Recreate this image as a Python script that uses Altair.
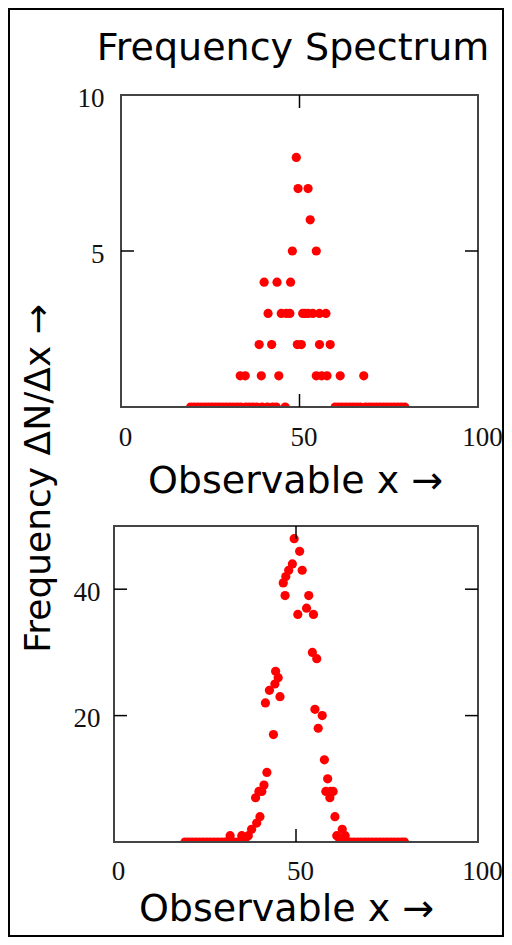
import altair as alt
import pandas as pd

# ---------------- text ----------------
TITLE = "Frequency Spectrum"
X_TITLE = "Observable x →"
Y_TITLE = "Frequency ΔN/Δx →"

# ---------------- tick values ----------------
x_ticks = [0, 50, 100]
top_y_ticks = [5, 10]
bot_y_ticks = [20, 40]

# ---------------- top panel data (counts per bin) ----------------
top_x = [49.1,
         49.6, 52.4,
         53.0,
         48.0, 54.7,
         40.1, 43.7, 47.5,
         41.2, 44.9, 46.3, 47.3, 50.9, 51.6, 52.4, 53.7, 55.6, 57.4,
         38.7, 42.2, 49.4, 50.5, 55.6, 58.6,
         33.4, 34.8, 39.3, 44.2, 54.7, 56.2, 57.7, 61.4, 68.0]
top_y = [8,
         7, 7,
         6,
         5, 5,
         4, 4, 4,
         3, 3, 3, 3, 3, 3, 3, 3, 3, 3,
         2, 2, 2, 2, 2, 2,
         1, 1, 1, 1, 1, 1, 1, 1, 1]
top_zero_x = [19.5, 20.5, 21.5, 22.5, 23.5, 24.5, 25.5, 26.5, 27.5, 28.5,
              29.5, 30.5, 31.5, 32.5, 33.5, 35.0, 36.0, 37.0, 38.0, 39.5,
              41.0, 42.5, 43.5, 46.0,
              60.0, 61.0, 62.0, 63.0, 64.0, 65.0, 66.0, 67.0, 68.5, 69.5,
              70.5, 71.5, 72.5, 73.5, 74.5, 75.5, 76.5, 77.5, 78.5, 79.5]

# ---------------- bottom panel data ----------------
bot_x = [49.5, 51.0, 49.0, 51.7, 48.0, 47.2, 46.5, 47.0, 53.5, 52.9,
         50.5, 54.8, 54.5, 55.7, 55.2, 57.2, 56.1, 57.8, 58.7, 58.2,
         59.5, 60.2, 59.3, 60.7, 62.7, 61.2, 63.5,
         44.4, 45.1, 44.2, 42.7, 45.6, 41.6, 43.8, 42.0, 41.2, 40.6,
         39.8, 38.9, 40.1, 39.2, 37.8, 36.9, 35.1, 31.9]
bot_y = [48, 46, 44, 43, 43, 42, 41, 39, 39, 37,
         36, 36, 30, 29, 21, 20, 18, 13, 10, 8,
         8, 8, 7, 4, 2, 1, 1,
         27, 26, 25, 24, 23, 22, 17, 11, 9, 8,
         8, 7, 4, 3, 2, 1, 1, 1]
bot_zero_x = [19.5, 20.5, 21.5, 22.5, 23.5, 24.5, 25.5, 26.5, 27.5, 28.5,
              29.5, 30.5, 31.0, 33.0, 34.0, 36.0,
              62.0, 64.2, 65.0, 66.0, 67.0, 68.0, 69.0, 70.0, 71.0, 72.0,
              73.0, 74.0, 75.0, 76.0, 77.0, 78.0, 79.0, 79.8]

# ---------------- styles ----------------
RED = "#ff0000"
FRAME = "#444444"
SERIF = "Liberation Serif"
SANS = "DejaVu Sans"
W, H = 496, 929


def x_axis(offset, pad, tx, ty):
    return alt.Axis(orient="bottom", offset=offset, values=x_ticks, ticks=False,
                    domain=False, grid=False, labelFlush=False, labelOverlap=False,
                    labelFont=SERIF, labelFontSize=27, labelColor="#111111",
                    labelPadding=pad, labelOffset=4,
                    title=X_TITLE, titleFont=SANS, titleFontSize=38,
                    titleFontWeight="normal", titleColor="black",
                    titleX=tx, titleY=ty, titleAlign="center",
                    titleBaseline="alphabetic")


def panel(xdom, ydom, xr, yr, px, py, zx, yticks, xaxis, yaxis):
    """Flat list of layers; every layer gets the same fixed domain/range."""
    def xs():
        return alt.Scale(domain=xdom, range=xr, nice=False, zero=False)

    def ys():
        return alt.Scale(domain=ydom, range=yr, nice=False, zero=False)

    pts = pd.DataFrame({"x": px + zx, "y": py + [0] * len(zx)})
    box = pd.DataFrame({"x0": [xdom[0]], "x1": [xdom[1]],
                        "y0": [ydom[0]], "y1": [ydom[1]]})
    side = pd.DataFrame({"y": [v for v in yticks if ydom[0] < v < ydom[1]]})
    mid = pd.DataFrame({"x": [v for v in x_ticks if xdom[0] < v < xdom[1]]})

    points = alt.Chart(pts).mark_point(
        filled=True, shape="circle", size=85, color=RED, opacity=1
    ).encode(
        x=alt.X("x:Q", scale=xs(), axis=xaxis),
        y=alt.Y("y:Q", scale=ys(), axis=yaxis),
    )
    mask = alt.Chart(box).mark_rect(color="white", y2Offset=7).encode(
        x=alt.X("x0:Q", scale=xs(), axis=None), x2="x1:Q",
        y=alt.Y("y0:Q", scale=ys(), axis=None), y2="y0:Q",
    )
    frame = alt.Chart(box).mark_rect(filled=False, color=FRAME, strokeWidth=2).encode(
        x=alt.X("x0:Q", scale=xs(), axis=None), x2="x1:Q",
        y=alt.Y("y0:Q", scale=ys(), axis=None), y2="y1:Q",
    )
    tick_style = dict(color="black", strokeWidth=1.5)
    left = alt.Chart(side.assign(e=xdom[0])).mark_rule(x2Offset=13, **tick_style).encode(
        x=alt.X("e:Q", scale=xs(), axis=None), x2="e:Q",
        y=alt.Y("y:Q", scale=ys(), axis=None),
    )
    right = alt.Chart(side.assign(e=xdom[1])).mark_rule(x2Offset=-13, **tick_style).encode(
        x=alt.X("e:Q", scale=xs(), axis=None), x2="e:Q",
        y=alt.Y("y:Q", scale=ys(), axis=None),
    )
    topt = alt.Chart(mid.assign(e=ydom[1])).mark_rule(y2Offset=13, **tick_style).encode(
        x=alt.X("x:Q", scale=xs(), axis=None),
        y=alt.Y("e:Q", scale=ys(), axis=None), y2="e:Q",
    )
    bott = alt.Chart(mid.assign(e=ydom[0])).mark_rule(y2Offset=-13, **tick_style).encode(
        x=alt.X("x:Q", scale=xs(), axis=None),
        y=alt.Y("e:Q", scale=ys(), axis=None), y2="e:Q",
    )
    return [points, mask, frame, left, right, topt, bott]


top_yaxis = alt.Axis(orient="left", offset=-113, values=top_y_ticks, ticks=False,
                     domain=False, grid=False, labelOverlap=False,
                     labelFont=SERIF, labelFontSize=27, labelColor="#111111",
                     labelPadding=17, labelOffset=3,
                     title=Y_TITLE, titleFont=SANS, titleFontSize=36,
                     titleFontWeight="normal", titleColor="black",
                     titleAngle=270, titleX=-83, titleY=470,
                     titleAlign="center", titleBaseline="middle")
bot_yaxis = alt.Axis(orient="left", offset=-106, values=bot_y_ticks, ticks=False,
                     domain=False, grid=False, labelOverlap=False,
                     labelFont=SERIF, labelFontSize=27, labelColor="#111111",
                     labelPadding=14, labelOffset=3, title=None)

layers = (
    panel([0, 100], [0, 10], [113, 470], [399, 87], top_x, top_y, top_zero_x,
          top_y_ticks, x_axis(399 - H, 17, 287, 85), top_yaxis)
    + panel([0, 100], [0, 50], [106, 470], [834, 518], bot_x, bot_y, bot_zero_x,
            bot_y_ticks, x_axis(834 - H, 16, 278, 78), bot_yaxis)
)

chart = alt.layer(*layers).resolve_scale(
    x="independent", y="independent"
).resolve_axis(
    x="independent", y="independent"
).properties(
    width=W, height=H, autosize="none", padding=0,
    title=alt.TitleParams(TITLE, font=SANS, fontSize=38, fontWeight="normal",
                          color="black", anchor="middle", frame="group",
                          baseline="alphabetic", offset=0, dx=37, dy=90),
).configure_view(stroke="black", strokeWidth=4)

chart.save("out.html", embed_options={"renderer": "svg", "actions": False})
